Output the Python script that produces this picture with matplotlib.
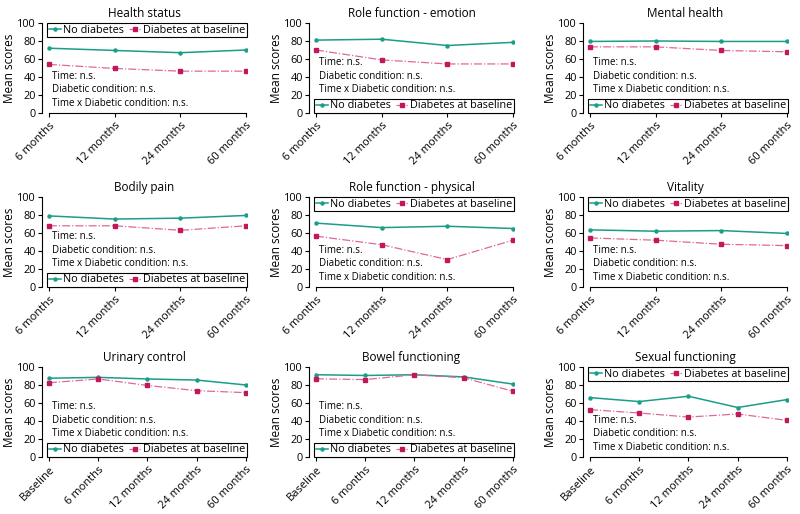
import matplotlib.pyplot as plt
import numpy as np

plt.rcParams['font.family'] = ['Open Sans', 'DejaVu Sans']

# dati
months4 = ['6 months', '12 months', '24 months', '60 months']
months5 = ['Baseline', '6 months', '12 months', '24 months', '60 months']

titles = ['Health status', 'Role function - emotion', 'Mental health',
          'Bodily pain', 'Role function - physical', 'Vitality',
          'Urinary control', 'Bowel functioning', 'Sexual functioning']

health_no = [72, 69.5, 67, 70]
health_db = [54, 49.5, 46.5, 46.5]
emotion_no = [81, 82, 75, 78.5]
emotion_db = [70, 59, 54.5, 54.5]
mental_no = [79.5, 80, 79.5, 79.5]
mental_db = [73.5, 73.5, 69.5, 68]
pain_no = [79, 75.5, 76.5, 79.5]
pain_db = [68, 68, 63, 68]
physical_no = [71, 66, 67.5, 65]
physical_db = [56.5, 47, 30.5, 52]
vitality_no = [63.5, 62, 62.7, 59.5]
vitality_db = [54.5, 52, 47.5, 46]
urinary_no = [87.5, 88.5, 86.7, 85.5, 80]
urinary_db = [82.5, 86.7, 79.5, 73.7, 71.5]
bowel_no = [91.4, 90.6, 91.4, 89, 81]
bowel_db = [86.9, 86, 91.4, 88, 73]
sexual_no = [66, 61.6, 67.5, 55, 63.8]
sexual_db = [52.6, 48.9, 44.4, 47.8, 40.7]

series_no = [health_no, emotion_no, mental_no, pain_no, physical_no,
             vitality_no, urinary_no, bowel_no, sexual_no]
series_db = [health_db, emotion_db, mental_db, pain_db, physical_db,
             vitality_db, urinary_db, bowel_db, sexual_db]
legend_top = [True, False, False, False, True, True, False, False, True]

col_left = [42, 309, 583]
row_bottom = [113, 287, 457]   # pixel dello zero
teal = '#1a9e8a'
pink_line = '#e06898'
pink_mark = '#c2185b'
note = 'Time: n.s.\nDiabetic condition: n.s.\nTime x Diabetic condition: n.s.'

fig = plt.figure(figsize=(8, 5.14), dpi=100)
for i in range(9):
    r, c = divmod(i, 3)
    ax = fig.add_axes([col_left[c] / 800, 1 - row_bottom[r] / 514, 205 / 800, 90 / 514])
    no = series_no[i]
    db = series_db[i]
    n = len(no)
    labels = months4 if n == 4 else months5
    x = np.arange(n)
    ax.plot(x, no, color=teal, lw=1.1, marker='o', ms=2.2, label='No diabetes')
    ax.plot(x, db, color=pink_line, lw=0.9, ls='-.', marker='s', ms=2.2,
            mfc=pink_mark, mec=pink_mark, label='Diabetes at baseline')
    ax.set_xlim(-0.035 * (n - 1), (n - 1) * 1.005)
    ax.set_ylim(0, 100)
    ax.set_yticks([0, 20, 40, 60, 80, 100])
    ax.set_xticks(x)
    ax.set_xticklabels(labels, rotation=45, ha='right', rotation_mode='anchor', fontsize=8)
    ax.tick_params(axis='y', labelsize=7.8, length=3, width=0.8, pad=1.5)
    ax.tick_params(axis='x', length=3, width=0.8, pad=2)
    for s in ['top', 'right']:
        ax.spines[s].set_visible(False)
    ax.spines['bottom'].set_bounds(0, n - 1)
    ax.spines['left'].set_linewidth(0.8)
    ax.spines['bottom'].set_linewidth(0.8)
    ax.set_title(titles[i], fontsize=8.5, pad=4)
    ax.set_ylabel('Mean scores', fontsize=8.5, labelpad=1)
    if legend_top[i]:
        loc, anchor, ty = 'upper right', (1.0, 1.0), 0.26
    else:
        loc, anchor, ty = 'lower right', (1.0, 0.0), 0.41
    leg = ax.legend(loc=loc, bbox_to_anchor=anchor, ncol=2, fontsize=7.8, fancybox=False,
                    edgecolor='black', framealpha=1, borderaxespad=0, handlelength=1.1,
                    handletextpad=0.2, columnspacing=0.5, borderpad=0.15)
    leg.get_frame().set_linewidth(0.8)
    ax.text(0.05, ty, note, transform=ax.transAxes, fontsize=7, va='center', linespacing=1.3)

fig.savefig('out.png', dpi=100)
